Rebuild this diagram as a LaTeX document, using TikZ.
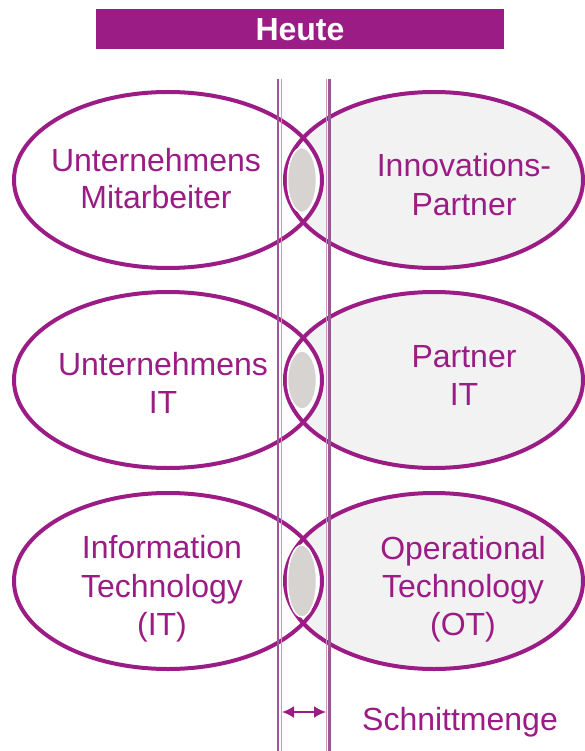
\documentclass[tikz,border=0pt]{standalone}
\usepackage{fontspec}
\setmainfont{Liberation Sans}
\usetikzlibrary{arrows.meta}
\definecolor{brand}{RGB}{155,28,132}
\definecolor{softgrey}{RGB}{242,242,242}
\definecolor{lensgrey}{RGB}{214,211,208}
\definecolor{rulestrong}{RGB}{158,86,148}
\definecolor{rulelight}{RGB}{204,150,196}
\tikzset{
  outline/.style={draw=brand, line width=4pt},
  lens/.style={fill=lensgrey, draw=white, line width=1.5pt},
  label/.style={text=brand, font=\fontsize{32}{37}\selectfont, anchor=base, inner sep=0pt},
  rulethick/.style={draw=rulestrong, line width=2.2pt},
  rulethin/.style={draw=rulelight, line width=1pt},
  widthtip/.tip={Latex[length=12pt,width=12pt]},
}
\begin{document}
\begin{tikzpicture}[x=1pt, y=-1pt]
\useasboundingbox (0,0) rectangle (585,751);

% header bar
\fill[brand] (96,9) rectangle (504,49);
\node[text=white, font=\fontsize{32}{37}\selectfont\bfseries, anchor=base, inner sep=0pt] (head) at (300,41) {Heute};

% three pairs of overlapping ellipses
\foreach \cy/\ly in {180/32.5, 380/29, 581/36} {
  \fill[softgrey] (434,\cy) ellipse [x radius=149, y radius=88];
  \fill[white] (168,\cy) ellipse [x radius=154, y radius=88];
  \draw[outline] (434,\cy) ellipse [x radius=149, y radius=88];
  \draw[outline] (168,\cy) ellipse [x radius=154, y radius=88];
  \path[lens] (302,\cy) ellipse [x radius=14.5, y radius=\ly];
}

% boundaries of the intersection band
\coordinate (lt) at (278,79);  \coordinate (lb) at (278,751);
\coordinate (rt) at (329.5,79); \coordinate (rb) at (329.5,751);
\draw[rulethick] (lt) -- (lb);
\draw[rulethin] ([xshift=3pt]lt) -- ([xshift=3pt]lb);
\draw[rulethin] ([xshift=-2.7pt]rt) -- ([xshift=-2.7pt]rb);
\draw[rulethick] (rt) -- (rb);

% width of the intersection
\coordinate (wl) at (282,712);
\coordinate (wr) at (326,712);
\draw[brand, line width=2pt, widthtip-widthtip] (wl) -- (wr);
\node[label] (schnitt) at (460,730) {Schnittmenge};

% labels, left column
\node[label] (a1) at (156,172) {Unternehmens};
\node[label] (a2) at (156,208) {Mitarbeiter};
\node[label] (b1) at (163,375) {Unternehmens};
\node[label] (b2) at (163,413) {IT};
\node[label] (c1) at (162,558) {Information};
\node[label] (c2) at (162,597) {Technology};
\node[label] (c3) at (162,635) {(IT)};

% labels, right column
\node[label] (d1) at (464,177) {Innovations-};
\node[label] (d2) at (464,215) {Partner};
\node[label] (e1) at (464,367) {Partner};
\node[label] (e2) at (464,405) {IT};
\node[label] (f1) at (463,559) {Operational};
\node[label] (f2) at (463,597) {Technology};
\node[label] (f3) at (463,635) {(OT)};
\end{tikzpicture}
\end{document}
